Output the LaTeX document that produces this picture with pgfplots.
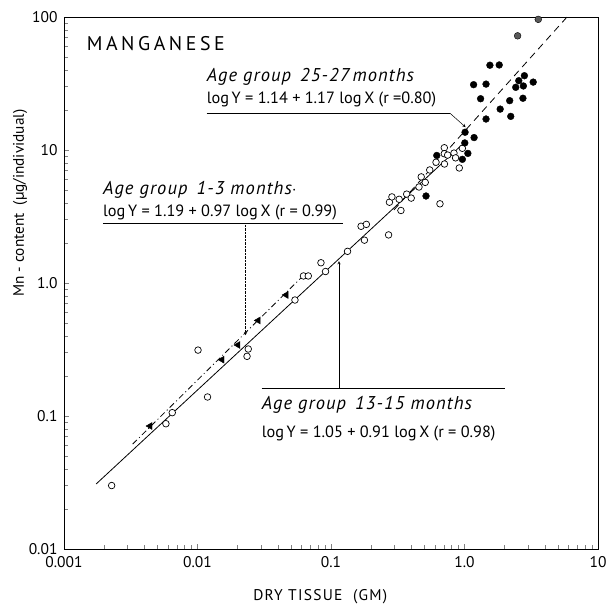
\documentclass[border=0pt]{standalone}
\usepackage{pgfplots}
\pgfplotsset{compat=1.18}
\usepackage{fontspec}
\setmainfont{PT Sans}
\newfontfamily\spaced[LetterSpace=18]{PT Sans}
\newfontfamily\lspaced[LetterSpace=8]{PT Sans}
\newfontfamily\itspaced[LetterSpace=6]{PT Sans}
\begin{document}
\begin{tikzpicture}
\useasboundingbox (-64pt,-56pt) rectangle (541pt,549pt);
\begin{axis}[
 at={(0,0)}, anchor=south west,
 scale only axis, width=534pt, height=532pt,
 xmode=log, ymode=log,
 xmin=0.001, xmax=10, ymin=0.01, ymax=100,
 xtick={0.001,0.01,0.1,1,10}, xticklabels={0.001,0.01,0.1,1.0,10},
 ytick={0.01,0.1,1,10,100}, yticklabels={0.01,0.1,1.0,10,100},
 xtick pos=bottom, ytick pos=left, tick align=inside,
 major tick length=5pt, minor tick length=4pt,
 tick style={line width=0.6pt},
 /pgf/number format/assume math mode=true,
 tick label style={font=\fontsize{15.5}{17}\selectfont},
 xticklabel style={yshift=-4pt},
 yticklabel style={xshift=-3pt},
 axis line style={line width=0.8pt},
 clip=false,
]
% regression lines
\addplot[black, line width=0.8pt] coordinates {(0.00174,0.0308) (0.953,10.9)};
\addplot[black, line width=0.8pt, dash pattern=on 6pt off 3pt on 1pt off 3pt] coordinates {(0.00327,0.0615) (0.060,1.10)};
\addplot[black, line width=0.8pt, dash pattern=on 7pt off 5pt] coordinates {(0.296,3.54) (5.86,100)};
% 13-15 months: open circles
\addplot[only marks, mark=*, mark size=3.3pt, mark options={fill=white, draw=black, line width=0.7pt}] coordinates {
(0.002275,0.030) (0.00580,0.0875) (0.00647,0.106) (0.01189,0.139) (0.01009,0.313)
(0.0240,0.319) (0.0235,0.281) (0.0537,0.745) (0.0622,1.13) (0.0676,1.13)
(0.0841,1.42) (0.0910,1.22) (0.133,1.73) (0.168,2.67) (0.184,2.76)
(0.178,2.10) (0.270,2.30) (0.274,4.05) (0.286,4.44) (0.324,4.26)
(0.334,3.51) (0.369,4.66) (0.399,4.35) (0.456,5.27) (0.508,5.71)
(0.474,6.28) (0.549,7.08) (0.612,8.09) (0.655,3.94) (0.706,10.4)
(0.706,9.38) (0.748,9.16) (0.708,7.85) (0.834,9.48) (0.857,8.73)
(0.914,7.33) (0.964,10.3)};
% 25-27 months: filled circles
\addplot[only marks, mark=*, mark size=3.4pt, mark options={fill=black, draw=black}] coordinates {
(1.55,43.4) (1.82,43.6) (1.17,31.0) (1.45,31.3) (2.81,36.2)
(2.55,33.2) (2.42,29.6) (2.76,30.3) (3.27,32.4) (1.32,24.3)
(2.18,23.5) (2.74,24.5) (1.85,20.3) (2.22,17.9) (1.45,17.1)
(1.01,13.6) (1.18,12.4) (1.005,11.3) (1.06,9.43) (0.964,8.51)
(0.620,9.10) (0.515,4.51)};
\addplot[only marks, mark=*, mark size=3.4pt, mark options={fill=black!65, draw=black}] coordinates {
(3.57,96) (2.50,72.2)};
% 1-3 months: triangles
\addplot[only marks, mark=triangle*, mark size=4pt, mark options={fill=black, draw=black, rotate=90}] coordinates {
(0.00441,0.0841) (0.01527,0.265) (0.0201,0.342) (0.0285,0.523) (0.0461,0.813)};

% annotations
\node[anchor=west, inner sep=0pt, font={\spaced\fontsize{19.8}{22}\selectfont}] at (rel axis cs:0.0425,0.951) {MANGANESE};

\node[anchor=west, inner sep=0pt, font={\itspaced\itshape\fontsize{18.5}{20}\selectfont}] at (rel axis cs:0.267,0.888) {Age group\, 25-27\,months};
\node[anchor=west, inner sep=0pt, font={\fontsize{16.3}{18}\selectfont}] at (rel axis cs:0.267,0.845) {log\,Y = 1.14 + 1.17 log\,X (r =0.80)};
\draw[line width=0.5pt] (rel axis cs:0.267,0.819) -- (rel axis cs:0.723,0.819);
\draw[line width=0.5pt, -stealth] (rel axis cs:0.723,0.819) -- (rel axis cs:0.752,0.793);

\node[anchor=west, inner sep=0pt, font={\itspaced\itshape\fontsize{18.5}{20}\selectfont}] at (rel axis cs:0.073,0.675) {Age group\, 1-3 months$\cdot$};
\node[anchor=west, inner sep=0pt, font={\fontsize{16.3}{18}\selectfont}] at (rel axis cs:0.073,0.632) {log\,Y = 1.19 + 0.97 log\,X (r = 0.99)};
\draw[line width=0.5pt] (rel axis cs:0.073,0.612) -- (rel axis cs:0.522,0.612);
\draw[line width=0.4pt, densely dotted, -stealth] (rel axis cs:0.340,0.612) -- (rel axis cs:0.340,0.402);

\draw[line width=0.5pt] (rel axis cs:0.370,0.302) -- (rel axis cs:0.826,0.302);
\draw[line width=0.4pt, -stealth] (rel axis cs:0.515,0.302) -- (rel axis cs:0.515,0.541);
\node[anchor=west, inner sep=0pt, font={\itspaced\itshape\fontsize{18.5}{20}\selectfont}] at (rel axis cs:0.370,0.270) {Age group\, 13-15 months};
\node[anchor=west, inner sep=0pt, font={\fontsize{16.3}{18}\selectfont}] at (rel axis cs:0.370,0.218) {log\,Y = 1.05 + 0.91 log\,X (r = 0.98)};

% axis labels
\node[font={\lspaced\fontsize{15.5}{17}\selectfont}] at (rel axis cs:0.48,-0.090) {DRY TISSUE\ \ (GM)};
\node[rotate=90, font={\fontsize{15.3}{17}\selectfont}] at (rel axis cs:-0.082,0.650) {Mn - content\ \ (µg/individual)};
\end{axis}
\end{tikzpicture}
\end{document}
